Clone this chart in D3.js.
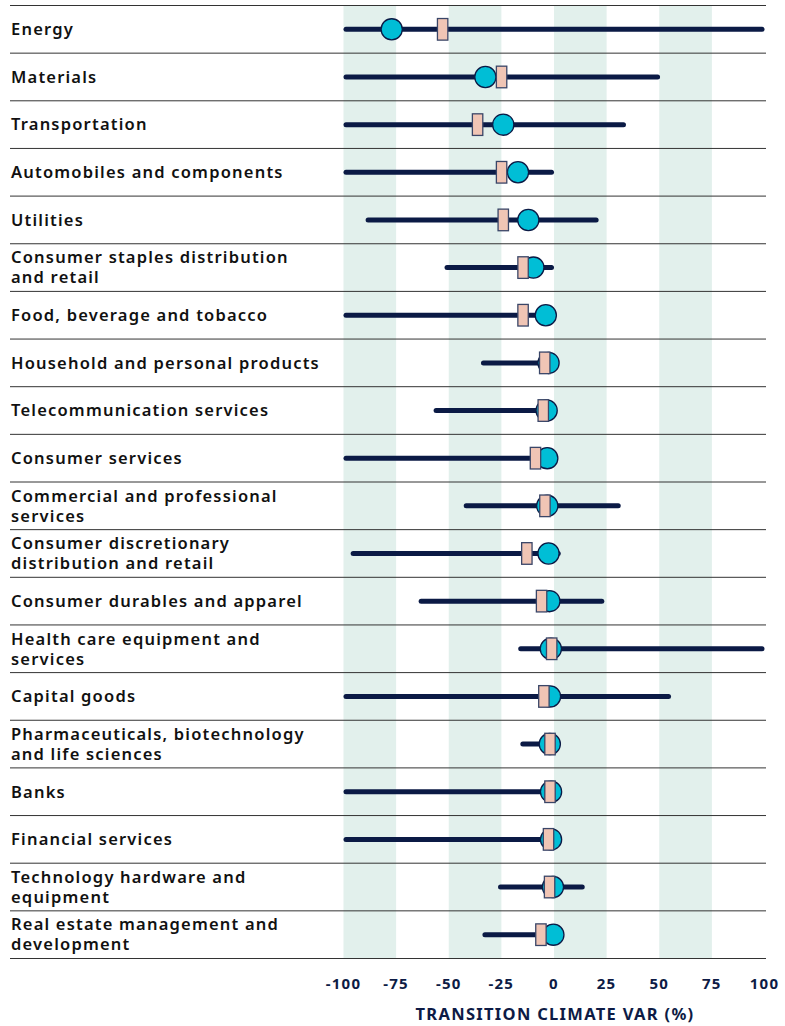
<!DOCTYPE html>
<html>
<head>
<meta charset="utf-8">
<script src="https://cdn.jsdelivr.net/npm/d3@7"></script>
<style>
  body { margin: 0; background: #fff; }
  svg { display: block; }
  .label { font-family: "Noto Sans", sans-serif; font-weight: 600; font-size: 16.5px; letter-spacing: 1.2px; fill: #111; }
  .tick-label { font-family: "Noto Sans", sans-serif; font-weight: 700; font-size: 15px; letter-spacing: 1.2px; fill: #0d1b45; }
  .axis-title { font-family: "Noto Sans", sans-serif; font-weight: 700; font-size: 16.5px; fill: #0d1b45; letter-spacing: 1.3px; }
</style>
</head>
<body>
<svg id="chart"></svg>
<script>
const sectors = [
  ["Energy"],
  ["Materials"],
  ["Transportation"],
  ["Automobiles and components"],
  ["Utilities"],
  ["Consumer staples distribution", "and retail"],
  ["Food, beverage and tobacco"],
  ["Household and personal products"],
  ["Telecommunication services"],
  ["Consumer services"],
  ["Commercial and professional", "services"],
  ["Consumer discretionary", "distribution and retail"],
  ["Consumer durables and apparel"],
  ["Health care equipment and", "services"],
  ["Capital goods"],
  ["Pharmaceuticals, biotechnology", "and life sciences"],
  ["Banks"],
  ["Financial services"],
  ["Technology hardware and", "equipment"],
  ["Real estate management and", "development"]
];

// range of the line (min / max), circle value, rectangle value
const minVals  = [-100, -100, -100, -100, -89.5, -52, -100, -34.7, -57.2, -100, -42.9, -96.6, -64.3, -17, -100, -16, -100, -100, -26.6, -34];
const maxVals  = [100, 50.4, 34.2, 0, 21.2, 0, -4, -1, -2, -4, 31.7, 3.2, 23.9, 100, 55.6, -1, -1, -1, 14.6, -1];
const circVals = [-77.1, -32.6, -24.1, -17.1, -12.2, -9.8, -3.9, -2.6, -3.5, -3.2, -3.2, -2.6, -2.2, -1.5, -1.9, -2.0, -1.4, -1.4, -0.5, -0.3];
const rectVals = [-52.9, -24.9, -36.3, -24.9, -24.1, -14.7, -14.7, -4.4, -5.1, -8.8, -4.3, -12.9, -5.9, -1.1, -4.8, -1.9, -1.9, -2.6, -2.1, -6.2];

const ticks = [-100, -75, -50, -25, 0, 25, 50, 75, 100];
const bands = [[-100, -75], [-50, -25], [0, 25], [50, 75]];

const W = 785, H = 1026;
const rowTop = 5.5, rowH = 47.65;
const lineLeft = 10, lineRight = 766;
const lineW = 5;

const svg = d3.select("#chart").attr("width", W).attr("height", H);

const x = d3.scaleLinear().domain([-100, 100]).range([343.5, 764.5]);
const y = d3.scaleBand().domain(d3.range(sectors.length))
  .range([rowTop, rowTop + rowH * sectors.length]).padding(0);

// shaded bands
svg.append("g").selectAll("rect")
  .data(bands)
  .join("rect")
    .attr("x", d => x(d[0]))
    .attr("width", d => x(d[1]) - x(d[0]))
    .attr("y", rowTop)
    .attr("height", y.range()[1] - rowTop)
    .attr("fill", "#e2f0ec");

// row separators
svg.append("g").selectAll("line")
  .data(d3.range(sectors.length + 1))
  .join("line")
    .attr("x1", lineLeft)
    .attr("x2", lineRight)
    .attr("y1", d => rowTop + d * rowH)
    .attr("y2", d => rowTop + d * rowH)
    .attr("stroke", "#333")
    .attr("stroke-width", 1);

// labels, one text per line
svg.append("g").selectAll("g")
  .data(sectors)
  .join("g")
    .attr("transform", (d, i) => `translate(11,${y(i) + y.bandwidth() / 2})`)
  .selectAll("text")
  .data(d => d.map((t, j) => ({t: t, j: j, n: d.length})))
  .join("text")
    .attr("class", "label")
    .attr("y", d => d.n === 1 ? 0 : (d.j === 0 ? -10 : 10))
    .attr("dy", "0.35em")
    .text(d => d.t);

const rows = svg.append("g").selectAll("g")
  .data(sectors.map((s, i) => i))
  .join("g")
    .attr("transform", i => `translate(0,${y(i) + y.bandwidth() / 2})`);

rows.append("line")
  .attr("x1", i => x(minVals[i]) + lineW / 2)
  .attr("x2", i => x(maxVals[i]) - lineW / 2)
  .attr("stroke", "#0b1a45")
  .attr("stroke-width", lineW)
  .attr("stroke-linecap", "round");

rows.append("circle")
  .attr("cx", i => x(circVals[i]))
  .attr("r", 10.6)
  .attr("fill", "#00bed6")
  .attr("stroke", "#0b1a45")
  .attr("stroke-width", 1.3);

rows.append("rect")
  .attr("x", i => x(rectVals[i]) - 5.2)
  .attr("y", -10.8)
  .attr("width", 10.4)
  .attr("height", 21.6)
  .attr("fill", "#f0c5b5")
  .attr("stroke", "#3a4668")
  .attr("stroke-width", 1.3);

// axis ticks
svg.append("g").selectAll("text")
  .data(ticks)
  .join("text")
    .attr("class", "tick-label")
    .attr("x", d => x(d))
    .attr("y", 989)
    .attr("text-anchor", "middle")
    .text(d => d);

svg.append("text")
  .attr("class", "axis-title")
  .attr("x", 555)
  .attr("y", 1020)
  .attr("text-anchor", "middle")
  .text("TRANSITION CLIMATE VAR (%)");
</script>
</body>
</html>
